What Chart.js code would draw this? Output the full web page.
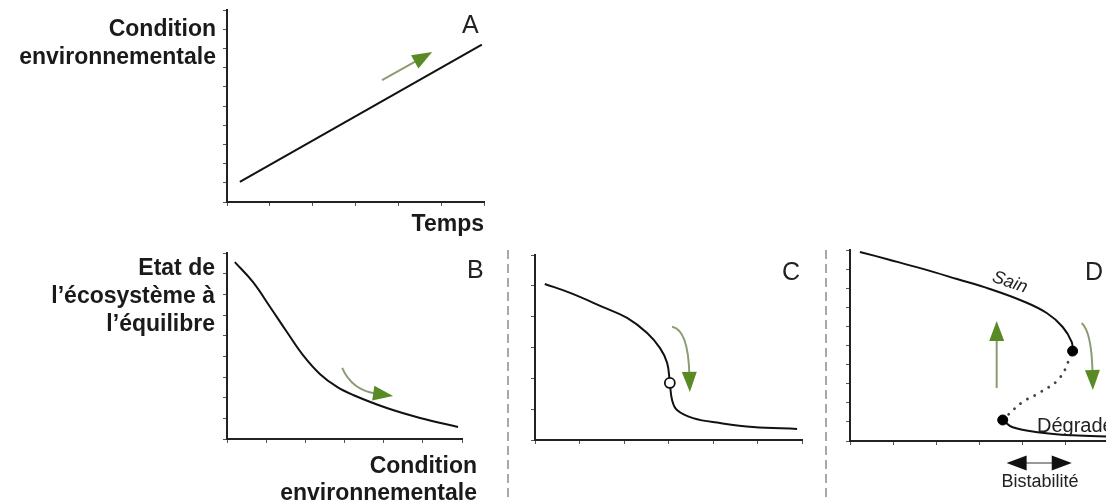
<!DOCTYPE html>
<html>
<head>
<meta charset="utf-8">
<script src="https://cdn.jsdelivr.net/npm/chart.js"></script>
<style>
html, body { margin: 0; padding: 0; background: #fff; overflow: hidden; width: 1106px; height: 501px; }
body { position: relative; font-family: "Liberation Sans", Arial, sans-serif; color: #1a1a1a; }
canvas { position: absolute; }
.lbl { position: absolute; font-weight: bold; font-size: 23px; line-height: 28px; text-align: right; white-space: nowrap; }
.let { position: absolute; font-size: 25px; line-height: 25px; color: #222; }
.txt { position: absolute; white-space: nowrap; color: #222; }
.sep { position: absolute; top: 250px; height: 251px; width: 2px;
       background: repeating-linear-gradient(to bottom, #a8a8a8 0 9px, transparent 9px 14px); }
</style>
</head>
<body>
<canvas id="chartA"></canvas>
<canvas id="chartB"></canvas>
<canvas id="chartC"></canvas>
<canvas id="chartD"></canvas>

<div class="lbl" style="right:890px; top:14px;">Condition<br>environnementale</div>
<div class="lbl" style="right:622px; top:209px;">Temps</div>
<div class="lbl" style="right:891px; top:253px;">Etat de<br>l’écosystème à<br>l’équilibre</div>
<div class="lbl" style="right:629px; top:452px; line-height:27px;">Condition<br>environnementale</div>

<div class="let" style="left:462px; top:12px;">A</div>
<div class="let" style="left:467px; top:257px;">B</div>
<div class="let" style="left:782px; top:259px;">C</div>
<div class="let" style="left:1085px; top:259px;">D</div>

<div class="txt" style="left:1010px; top:282px; font-size:18px; font-style:italic; transform:translate(-50%,-50%) rotate(19deg);">Sain</div>
<div class="txt" style="left:1037px; top:415px; font-size:20px; line-height:20px;">Dégradé</div>
<div class="txt" style="left:990px; width:100px; text-align:center; top:472px; font-size:18px; line-height:18px;">Bistabilité</div>

<div class="sep" style="left:507px;"></div>
<div class="sep" style="left:825px;"></div>

<script>
// A : condition environnementale au cours du temps
const tempsA = [0.3, 5.95];
const conditionA = [1.05, 8.2];

// B : réponse graduelle
const condB = [0.2, 0.66, 1.1, 1.53, 1.94, 2.37, 2.81, 3.22, 4.08, 4.93, 5.9];
const etatB = [8.56, 7.6, 6.39, 5.18, 4.06, 3.15, 2.52, 2.13, 1.5, 1.02, 0.58];

// C : seuil abrupt
const condC = [0.22, 0.79, 1.53, 2.07, 2.52, 2.81, 2.97, 3.03, 3.08, 3.19, 3.55, 4.16, 4.9, 5.89];
const etatC = [5.06, 4.77, 4.31, 3.96, 3.47, 2.98, 2.5, 1.85, 1.3, 0.97, 0.71, 0.55, 0.42, 0.36];
const seuilCondC = [3.03];
const seuilEtatC = [1.85];

// D : bistabilité (sain / instable / dégradé)
const condSain = [0.23, 0.93, 1.69, 2.48, 3.24, 4.0, 4.56, 4.93, 5.14, 5.16];
const etatSain = [9.9, 9.48, 9.01, 8.48, 7.96, 7.33, 6.7, 5.97, 5.18, 4.71];
const condInstable = [3.54, 3.66, 4.0, 4.38, 4.86, 5.16];
const etatInstable = [1.1, 1.36, 2.04, 2.51, 3.3, 4.71];
const condDegrade = [3.54, 3.77, 4.4, 5.16, 5.95, 6.9];
const etatDegrade = [1.1, 0.72, 0.45, 0.3, 0.24, 0.2];
const bifCond = [5.16, 3.54];
const bifEtat = [4.71, 1.1];
const bistabilite = [3.63, 5.14];

// fleches vertes (depart, controle, pointe) en unites des axes
const flecheA = [[3.62, 6.35], [4.2, 7.07], [4.79, 7.81]];
const flecheB = [[2.94, 3.44], [3.19, 2.37], [4.24, 2.08]];
const flecheC = [[3.08, 3.67], [3.44, 3.57], [3.48, 1.56]];
const flecheDmonte = [[3.40, 2.77], [3.40, 4.5], [3.40, 6.28]];
const flecheDdescend = [[5.37, 6.18], [5.60, 5.71], [5.63, 2.67]];

function pts(xs, ys) {
  return xs.map((x, i) => ({ x: x, y: ys[i] }));
}

function courbe(xs, ys, extra) {
  return Object.assign({
    data: pts(xs, ys), showLine: true, borderColor: '#111', borderWidth: 2,
    pointRadius: 0, tension: 0.4, fill: false
  }, extra || {});
}

function tete(ctx, tip, dir, len, half, color) {
  const nx = -dir[1], ny = dir[0];
  const bx = tip[0] - dir[0] * len, by = tip[1] - dir[1] * len;
  ctx.fillStyle = color;
  ctx.beginPath();
  ctx.moveTo(tip[0], tip[1]);
  ctx.lineTo(bx + nx * half, by + ny * half);
  ctx.lineTo(bx - nx * half, by - ny * half);
  ctx.closePath();
  ctx.fill();
}

const flechesPlugin = {
  id: 'fleches',
  afterDatasetsDraw(chart, args, opts) {
    const ctx = chart.ctx, sx = chart.scales.x, sy = chart.scales.y;
    const px = p => [sx.getPixelForValue(p[0]), sy.getPixelForValue(p[1])];
    ctx.save();
    (opts.vertes || []).forEach(f => {
      const s = px(f[0]), c = px(f[1]), t = px(f[2]);
      let dx = t[0] - c[0], dy = t[1] - c[1];
      const d = Math.hypot(dx, dy); dx /= d; dy /= d;
      const len = 20;
      const b = [t[0] - dx * len + dx * 2, t[1] - dy * len + dy * 2];
      ctx.strokeStyle = '#8c9c72';
      ctx.lineWidth = 2;
      ctx.beginPath();
      ctx.moveTo(s[0], s[1]);
      ctx.quadraticCurveTo(c[0], c[1], b[0], b[1]);
      ctx.stroke();
      tete(ctx, t, [dx, dy], len, 7.5, '#5a8a24');
    });
    if (opts.double) {
      const y = chart.chartArea.bottom + 22;
      const x0 = sx.getPixelForValue(opts.double[0]), x1 = sx.getPixelForValue(opts.double[1]);
      ctx.strokeStyle = '#777';
      ctx.lineWidth = 1.5;
      ctx.beginPath();
      ctx.moveTo(x0 + 15, y); ctx.lineTo(x1 - 15, y);
      ctx.stroke();
      tete(ctx, [x0, y], [-1, 0], 20, 7.5, '#111');
      tete(ctx, [x1, y], [1, 0], 20, 7.5, '#111');
    }
    ctx.restore();
  }
};

function axe(max, fit) {
  return {
    type: 'linear', min: 0, max: max,
    ticks: { display: false, stepSize: 1 },
    grid: { drawOnChartArea: false, drawTicks: true, tickLength: 4, color: '#555', lineWidth: 1 },
    border: { display: true, color: '#222', width: 2 },
    afterFit: fit
  };
}

function panneau(id, box, xMax, yMax, datasets, vertes, double) {
  const cv = document.getElementById(id);
  cv.width = box.right - box.left + 30;
  cv.height = box.bottom - box.top + 70;
  cv.style.left = (box.left - 20) + 'px';
  cv.style.top = (box.top - 10) + 'px';
  return new Chart(cv, {
    type: 'scatter',
    data: { datasets: datasets },
    options: {
      responsive: false,
      animation: false,
      events: [],
      layout: { autoPadding: false, padding: { top: 10, right: 10, left: 0, bottom: 0 } },
      plugins: {
        legend: { display: false },
        tooltip: { enabled: false },
        fleches: { vertes: vertes, double: double }
      },
      scales: {
        x: axe(xMax, s => { s.height = 60; }),
        y: axe(yMax, s => { s.width = 20; })
      }
    },
    plugins: [flechesPlugin]
  });
}

panneau('chartA', { left: 227, top: 10, right: 484, bottom: 202 }, 6, 10,
  [courbe(tempsA, conditionA, { tension: 0 })],
  [flecheA]);

panneau('chartB', { left: 227, top: 253, right: 462, bottom: 439 }, 6, 9,
  [courbe(condB, etatB)],
  [flecheB]);

panneau('chartC', { left: 535, top: 255, right: 802, bottom: 440 }, 6, 6,
  [courbe(condC, etatC),
   { data: pts(seuilCondC, seuilEtatC), order: -1, pointRadius: 5, pointBackgroundColor: '#fff',
     pointBorderColor: '#111', pointBorderWidth: 1.8 }],
  [flecheC]);

panneau('chartD', { left: 850, top: 250, right: 1152, bottom: 441 }, 7, 10,
  [courbe(condSain, etatSain),
   courbe(condInstable, etatInstable, { borderDash: [0.1, 8], borderCapStyle: 'round', borderWidth: 2.8, borderColor: '#444' }),
   courbe(condDegrade, etatDegrade),
   { data: pts(bifCond, bifEtat), order: -1, pointRadius: 5, pointBackgroundColor: '#000', pointBorderColor: '#000' }],
  [flecheDmonte, flecheDdescend], bistabilite);
</script>
</body>
</html>
